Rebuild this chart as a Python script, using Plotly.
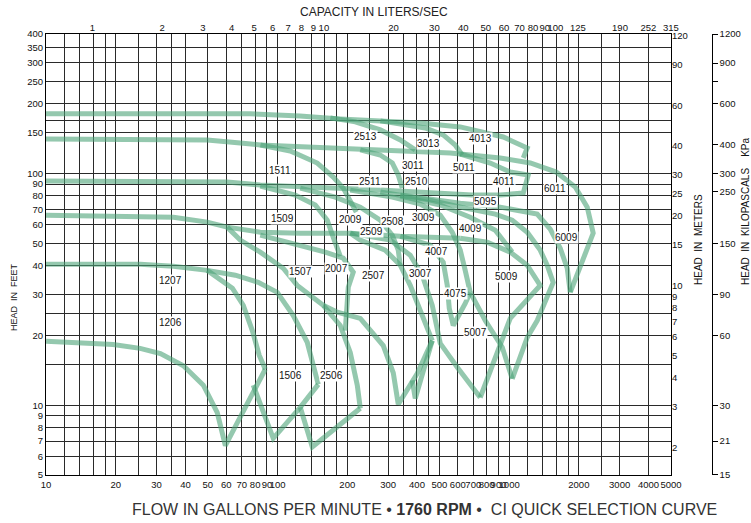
import math
import plotly.graph_objects as go

# ---------------- axes / grid values ----------------
x_grid = [10, 12, 14, 16, 18, 20, 25, 30, 35, 40, 50, 60, 70, 80, 90,
          100, 120, 140, 160, 180, 200, 250, 300, 350, 400, 450, 500, 600, 700, 800, 900,
          1000, 1200, 1400, 1600, 1800, 2000, 2500, 3000, 4000, 5000]
x_labels = [10, 20, 30, 40, 50, 60, 70, 80, 90, 100, 200, 300, 400, 500, 600, 700, 800, 900,
            1000, 2000, 3000, 4000, 5000]
y_grid = [5, 6, 7, 8, 9, 10, 15, 20, 25, 30, 40, 50, 60, 70, 80, 90, 100, 150, 170, 200, 250, 300, 350, 400]
y_labels = [5, 6, 7, 8, 9, 10, 20, 30, 40, 50, 60, 70, 80, 90, 100, 150, 200, 250, 300, 350, 400]
lps_ticks = [1, 2, 3, 4, 5, 6, 7, 8, 9, 10, 20, 30, 40, 50, 60, 70, 80, 90, 100, 125, 190, 252, 315]
m_ticks = [2, 3, 4, 5, 6, 7, 8, 9, 10, 15, 20, 25, 30, 40, 60, 90, 120]
kpa_ticks = [15, 21, 30, 60, 90, 150, 250, 300, 400, 600, 750, 900, 1200]
kpa_text = ["15", "21", "30", "60", "90", "150", "250", "300", "400", "600", "", "900", "1200"]

# ---------------- pump curves (flow GPM, head ft) ----------------
q_t180 = [10, 76, 125, 186.5]
h_t180 = [181, 181, 177, 172]
q_4013 = [186.5, 278, 413, 615, 943, 1197, 1151]
h_4013 = [172, 168.7, 165.3, 158.9, 143.8, 128.9, 116.7]
q_2513 = [169, 216.5, 278, 339, 393]
h_2513 = [173.8, 167, 154.2, 139.6, 126.4]
q_3013 = [278, 339, 434, 519, 585, 627]
h_3013 = [168.7, 163.7, 157.3, 146.7, 132.8, 120.2]

q_t140 = [10, 49.7, 69, 84.2]
h_t140 = [141, 139.6, 135.5, 132.8]
q_6011 = [84.2, 169, 339, 557, 915, 1234, 1597, 1930, 2174, 2307, 1836]
h_6011 = [132.8, 128.9, 126.4, 122.7, 116.7, 111, 101.5, 87.4, 71.6, 55.3, 30.7]
q_1511 = [84.2, 113.4, 148.4, 174, 192.2, 206, 218.7]
h_1511 = [132.8, 125.1, 111, 96.6, 86.5, 76.8, 68.1]
q_3011 = [227.6, 277.6, 312.9, 332, 345.5]
h_3011 = [126.4, 120.2, 111, 98.5, 86.5]
q_4011 = [615, 829, 1011, 1209, 1151, 915, 693]
h_4011 = [121.4, 111, 101.5, 98.5, 82.4, 80.7, 80.7]

q_t93 = [10, 60.6, 84.2, 125.3, 206, 277.6]
h_t93 = [92.8, 91.9, 89.2, 87.4, 85.7, 84.8]
q_2009 = [84.2, 119.2, 145.5, 163.9, 175.7, 186.5]
h_2009 = [88.3, 80.7, 73.1, 62.9, 51.6, 44.0]
q_2509 = [125.3, 177.5, 227.6, 277.6, 312.9, 332, 338.7]
h_2509 = [86.5, 79.1, 71.6, 62.9, 54.2, 46.7, 40.2]
q_3009 = [206, 312.9, 413.2, 504, 568, 615, 646, 679]
h_3009 = [84.8, 79.1, 73.8, 66.1, 55.8, 46.7, 38.2, 30.7]
q_2510 = [277.6, 413.2, 556.8, 693]
h_2510 = [84.8, 83.2, 82.4, 80.7]
q_5095 = [277.6, 456.3, 646.3, 871, 1031, 1197, 1362, 1460, 1550, 1322, 1197, 1031]
h_5095 = [83.2, 76.8, 70.9, 66.8, 62.9, 55.8, 46.7, 40.2, 33.9, 23.2, 19.6, 13.0]
q_6009 = [338.7, 615, 915.5, 1322, 1505, 1662, 1782, 1836]
h_6009 = [80.7, 74.5, 71.6, 66.8, 57.5, 47.6, 39.0, 30.7]
q_4009 = [338.7, 504, 679, 871, 1031]
h_4009 = [79.9, 73.1, 64.8, 56.9, 45.8]

q_t66 = [10, 35.5, 49.7, 60.6]
h_t66 = [66.1, 64.8, 61.7, 58.7]
q_1509 = [60.6, 69, 84.2, 105.8, 121.6, 157.5, 186.5, 206, 220.9, 227.6]
h_1509 = [58.7, 51.6, 45.8, 39, 32.9, 27, 22.1, 16.9, 12.2, 9.7]
q_t66b = [60.6, 84.2, 125.3, 206, 338.7, 615]
h_t66b = [58.7, 55.8, 55.3, 55.3, 53.6, 52.6]
q_2007 = [84.2, 125.3, 160.7, 192.2, 212.3, 202, 200, 196]
h_2007 = [54.2, 49.1, 45.8, 43.1, 37.5, 32.3, 27.5, 21.0]
q_5009 = [615, 804, 1011, 1197, 1362, 1011, 750]
h_5009 = [52.6, 50.5, 45.8, 40.2, 32.9, 23.7, 10.8]
q_4007 = [206, 306.6, 374, 421.5, 465.6, 504, 597, 679, 750]
h_4007 = [55.3, 51.6, 44.4, 36.4, 27, 18.5, 14.6, 12.4, 10.8]
q_3007 = [206, 227.6, 291.7, 338.7, 374, 413.2, 465.6]
h_3007 = [55.3, 51.6, 46.7, 40.2, 32.9, 25.7, 19.0]
q_4075 = [338.7, 456.3, 519.4, 540.5, 551.3, 573.6, 646.3, 679]
h_4075 = [53.6, 49.1, 41.4, 32.9, 26.2, 22.1, 27.5, 30.7]
q_5007 = [679, 788.5, 933.8, 1031]
h_5007 = [30.7, 23.2, 17.8, 13.0]
q_2507 = [157.5, 181.1, 227.6, 286, 316, 332, 401, 465.6]
h_2507 = [27, 25.2, 23.7, 18.1, 13.8, 10.1, 13.7, 19.0]
q_3006 = [381.6, 393.1, 465.6]
h_3006 = [12.8, 10.7, 19.0]

q_t41 = [10, 25.5, 35.5, 49.7]
h_t41 = [40.6, 40.6, 39.8, 38.2]
q_1207 = [49.7, 54.9, 63.8, 71.1, 77.8, 83.4, 88.5]
h_1207 = [38.2, 35.7, 32.0, 27.0, 21.0, 16.4, 14.3]
q_1507 = [49.7, 65.7, 82.5, 99.7, 116.9, 134.3, 149.9]
h_1507 = [38.2, 36.4, 33.9, 30.7, 24.4, 18.7, 12.3]
q_1506 = [78.5, 95.8, 125.3, 149.9]
h_1506 = [12.2, 7.2, 9.8, 12.3]
q_2506 = [125.3, 141.2, 227.6]
h_2506 = [9.8, 6.6, 9.7]
q_1206 = [10, 19.5, 25.5, 31.2, 39.2, 47.8, 54.9, 59.5, 88.5]
h_1206 = [18.9, 18.3, 17.6, 16.7, 14.8, 12.2, 9.3, 6.7, 14.3]

curves = [
    (q_t180, h_t180), (q_4013, h_4013), (q_2513, h_2513), (q_3013, h_3013),
    (q_t140, h_t140), (q_6011, h_6011), (q_1511, h_1511), (q_3011, h_3011), (q_4011, h_4011),
    (q_t93, h_t93), (q_2009, h_2009), (q_2509, h_2509), (q_3009, h_3009), (q_2510, h_2510),
    (q_5095, h_5095), (q_6009, h_6009), (q_4009, h_4009),
    (q_t66, h_t66), (q_1509, h_1509), (q_t66b, h_t66b), (q_2007, h_2007), (q_5009, h_5009),
    (q_4007, h_4007), (q_3007, h_3007), (q_4075, h_4075), (q_5007, h_5007), (q_2507, h_2507),
    (q_3006, h_3006),
    (q_t41, h_t41), (q_1207, h_1207), (q_1507, h_1507), (q_1506, h_1506), (q_2506, h_2506),
    (q_1206, h_1206),
]

# ---------------- curve labels ----------------
lab_names = ["1206", "1207", "1506", "2506", "1507", "2007", "2507", "3007", "4007", "5007",
             "4075", "5009", "6009", "4009", "3009", "2508", "2509", "2009", "1509", "1511",
             "2511", "2510", "3011", "5011", "4011", "6011", "5095", "2513", "3013", "4013"]
lab_q = [34.4, 34.4, 113.4, 171.8, 125, 180.5, 259.7, 413, 488, 714,
         585, 978, 1777, 679, 427, 312, 255.6, 206, 104.5, 102.7,
         251.3, 400, 385, 636, 946, 1581, 788, 239, 447.5, 750]
lab_h = [22.8, 34.6, 13.4, 13.4, 37.6, 39.1, 36.4, 37.0, 46.2, 20.7,
         30.5, 35.8, 53.0, 57.9, 64.4, 61.8, 56.4, 63.6, 64.0, 103.5,
         92.1, 92.1, 108.8, 105.9, 92.1, 86.3, 75.5, 143.8, 135.4, 141]

# ---------------- figure ----------------
W, H = 751, 523
ML, MR, MT, MB = 46, 10, 34, 48
PW = W - ML - MR
PH = H - MT - MB
plot_right = 671
xdom = (plot_right - ML) / PW

GREEN = "rgba(76,163,120,0.6)"
FONT = "Liberation Sans, Arial, sans-serif"

fig = go.Figure()
for q, h in curves:
    fig.add_trace(go.Scatter(x=q, y=h, mode="lines", line=dict(color=GREEN, width=5),
                             hoverinfo="skip", showlegend=False))

# invisible anchors for secondary axes
fig.add_trace(go.Scatter(x=[10], y=[100], xaxis="x2", yaxis="y", mode="markers",
                         marker=dict(opacity=0), hoverinfo="skip", showlegend=False))
fig.add_trace(go.Scatter(x=[100], y=[10], xaxis="x", yaxis="y2", mode="markers",
                         marker=dict(opacity=0), hoverinfo="skip", showlegend=False))
fig.add_trace(go.Scatter(x=[100], y=[100], xaxis="x", yaxis="y3", mode="markers",
                         marker=dict(opacity=0), hoverinfo="skip", showlegend=False))

FT_TO_M = 0.3048
GPM_TO_LPS = 0.0630902

tick_font = dict(family=FONT, size=9.5, color="#111")

fig.update_layout(
    width=W, height=H,
    margin=dict(l=ML, r=MR, t=MT, b=MB, autoexpand=False),
    paper_bgcolor="white", plot_bgcolor="white",
    showlegend=False,
    xaxis=dict(type="log", range=[1, math.log10(5000)], domain=[0, xdom],
               tickmode="array", tickvals=x_grid,
               ticktext=[str(v) if v in x_labels else "" for v in x_grid],
               showgrid=True, gridcolor="#2a2a2a", gridwidth=1,
               showline=True, linecolor="black", linewidth=1.2, mirror=True,
               ticks="", zeroline=False, tickfont=tick_font, tickangle=0, automargin=False),
    xaxis2=dict(type="log", overlaying="x", side="top", anchor="y",
                range=[math.log10(10 * GPM_TO_LPS), math.log10(5000 * GPM_TO_LPS)],
                tickmode="array", tickvals=lps_ticks, ticktext=[str(v) for v in lps_ticks],
                showgrid=False, showline=False, ticks="", zeroline=False, tickfont=tick_font,
                tickangle=0, automargin=False),
    yaxis=dict(type="log", range=[math.log10(5), math.log10(400)],
               tickmode="array", tickvals=y_grid,
               ticktext=[str(v) if v in y_labels else "" for v in y_grid],
               showgrid=True, gridcolor="#2a2a2a", gridwidth=1,
               showline=True, linecolor="black", linewidth=1.2, mirror=True,
               ticks="", zeroline=False, tickfont=tick_font, automargin=False),
    yaxis2=dict(type="log", overlaying="y", side="right", anchor="x",
                range=[math.log10(5 * FT_TO_M), math.log10(400 * FT_TO_M)],
                tickmode="array", tickvals=m_ticks, ticktext=[str(v) for v in m_ticks],
                showgrid=False, showline=False, ticks="", zeroline=False, tickfont=tick_font,
                automargin=False),
    yaxis3=dict(type="log", overlaying="y", side="right", anchor="free",
                position=(711.7 - ML) / PW,
                range=[math.log10(14.99), math.log10(1201)],
                tickmode="array", tickvals=kpa_ticks, ticktext=kpa_text,
                showgrid=False, showline=True, linecolor="black", linewidth=1,
                ticks="outside", ticklen=5, tickcolor="black", zeroline=False,
                tickfont=tick_font, automargin=False),
)

# curve labels
for name, q, h in zip(lab_names, lab_q, lab_h):
    fig.add_annotation(x=math.log10(q), y=math.log10(h), xref="x", yref="y", text=name,
                       showarrow=False, bgcolor="white", borderpad=0,
                       xanchor="center", yanchor="middle",
                       font=dict(family=FONT, size=10, color="#111"))

def px_to_paper(px, py):
    return (px - ML) / PW, (H - MB - py) / PH

def paper_text(px, py, text, size, angle=0, color="#111"):
    ax, ay = px_to_paper(px, py)
    fig.add_annotation(x=ax, y=ay, xref="paper", yref="paper", text=text,
                       textangle=angle, showarrow=False, xanchor="center", yanchor="middle",
                       font=dict(family=FONT, size=size, color=color))

paper_text(14, 297, "HEAD  IN  FEET", 9, -90)
paper_text(698, 240, "HEAD  IN  METERS", 10, -90)
paper_text(745, 211, "HEAD  IN  KILOPASCALS    KPa", 10, -90)
paper_text(374, 12, "CAPACITY IN LITERS/SEC", 12, 0, "#222")
paper_text(424, 509,
           "FLOW IN GALLONS PER MINUTE \u2022 <b>1760 RPM</b> \u2022  CI QUICK SELECTION CURVE",
           16, 0, "#333")

fig.write_html("out.html", config={"displayModeBar": False},
               post_script="document.body.style.margin='0';document.body.style.overflow='hidden';")
